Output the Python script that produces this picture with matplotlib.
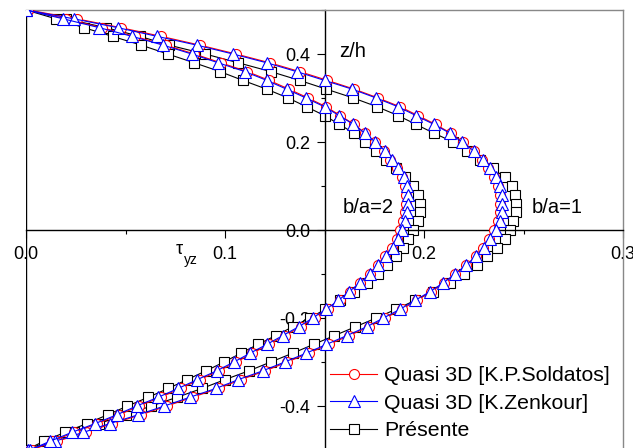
import numpy as np
import matplotlib
matplotlib.use("Agg")
from matplotlib import pyplot as plt
from matplotlib.ticker import MultipleLocator

plt.rcParams['font.family'] = ['Liberation Sans', 'DejaVu Sans']
plt.rcParams['axes.unicode_minus'] = False

# z/h sampling of the curves (top to bottom)
z_h = [0.50, 0.48, 0.46, 0.44, 0.42, 0.40, 0.38, 0.36, 0.34, 0.32, 0.30,
       0.28, 0.26, 0.24, 0.22, 0.20, 0.18, 0.16, 0.14, 0.12, 0.10,
       0.08, 0.06, 0.04, 0.02, 0.00, -0.02, -0.04, -0.06, -0.08, -0.10,
       -0.12, -0.14, -0.16, -0.18, -0.20, -0.22, -0.24, -0.26, -0.28, -0.30,
       -0.32, -0.34, -0.36, -0.38, -0.40, -0.42, -0.44, -0.46, -0.48, -0.50]

# b/a = 1
soldatos_1 = [0.001, 0.0255, 0.0475, 0.068, 0.0875, 0.1055, 0.1225, 0.1375, 0.1515, 0.165, 0.177,
              0.188, 0.197, 0.2058, 0.2135, 0.2195, 0.225, 0.229, 0.2322, 0.235, 0.237,
              0.238, 0.2384, 0.238, 0.237, 0.2352, 0.2325, 0.2295, 0.226, 0.2212, 0.2158,
              0.2102, 0.2037, 0.1963, 0.189, 0.1806, 0.1722, 0.1624, 0.1522, 0.142, 0.1313,
              0.1203, 0.108, 0.0968, 0.0837, 0.0708, 0.0577, 0.0433, 0.030, 0.0158, 0.002]
zenkour_1 = [0.000, 0.024, 0.046, 0.066, 0.086, 0.104, 0.121, 0.136, 0.150, 0.164, 0.176,
             0.187, 0.196, 0.205, 0.213, 0.219, 0.225, 0.2295, 0.233, 0.236, 0.238,
             0.239, 0.2394, 0.239, 0.238, 0.2362, 0.2332, 0.230, 0.2262, 0.2212, 0.2156,
             0.2097, 0.203, 0.1955, 0.188, 0.1796, 0.1712, 0.1612, 0.151, 0.1408, 0.130,
             0.119, 0.1067, 0.0955, 0.0824, 0.0695, 0.0564, 0.042, 0.0288, 0.0146, 0.001]
presente_1 = [0.000, 0.020, 0.040, 0.0573, 0.072, 0.090, 0.1067, 0.123, 0.1375, 0.151, 0.1645,
              0.1765, 0.187, 0.196, 0.205, 0.2147, 0.2218, 0.228, 0.2345, 0.2405, 0.244,
              0.2457, 0.2462, 0.246, 0.2449, 0.2432, 0.2405, 0.2365, 0.2318, 0.2265, 0.220,
              0.213, 0.2045, 0.1955, 0.186, 0.176, 0.1655, 0.155, 0.1445, 0.134, 0.123,
              0.112, 0.100, 0.0885, 0.076, 0.063, 0.050, 0.0365, 0.024, 0.0115, 0.000]

# b/a = 2
soldatos_2 = [0.001, 0.020, 0.038, 0.0547, 0.0703, 0.0846, 0.0979, 0.1112, 0.1222, 0.1322, 0.1418,
              0.1508, 0.158, 0.1648, 0.1704, 0.1752, 0.1798, 0.183, 0.1862, 0.1888, 0.1906,
              0.1911, 0.1911, 0.1906, 0.1895, 0.1878, 0.1862, 0.184, 0.1805, 0.1768, 0.1729,
              0.168, 0.1628, 0.1576, 0.1516, 0.145, 0.138, 0.1301, 0.1222, 0.1138, 0.1057,
              0.097, 0.0873, 0.0777, 0.0677, 0.0568, 0.0468, 0.0359, 0.0242, 0.0133, 0.003]
zenkour_2 = [0.000, 0.0187, 0.0367, 0.0534, 0.069, 0.0833, 0.0966, 0.110, 0.121, 0.131, 0.1407,
             0.150, 0.1574, 0.1645, 0.1704, 0.1754, 0.1804, 0.1838, 0.1871, 0.1898, 0.1916,
             0.1921, 0.1921, 0.1916, 0.1905, 0.1888, 0.187, 0.1846, 0.1809, 0.177, 0.1729,
             0.1678, 0.1624, 0.157, 0.1508, 0.1441, 0.137, 0.129, 0.121, 0.1126, 0.1045,
             0.0958, 0.0861, 0.0765, 0.0665, 0.0556, 0.0456, 0.0347, 0.023, 0.0121, 0.002]
presente_2 = [0.000, 0.015, 0.029, 0.0435, 0.058, 0.0712, 0.0846, 0.0975, 0.109, 0.121, 0.1317,
              0.141, 0.150, 0.1575, 0.1648, 0.1706, 0.176, 0.1808, 0.1858, 0.1905, 0.1945,
              0.1968, 0.1978, 0.1978, 0.1968, 0.1946, 0.1921, 0.1893, 0.1858, 0.1815, 0.177,
              0.1715, 0.165, 0.158, 0.1505, 0.1425, 0.134, 0.1255, 0.1165, 0.108, 0.0995,
              0.0905, 0.081, 0.0715, 0.0615, 0.051, 0.041, 0.0305, 0.0195, 0.009, 0.000]

labels = ["Quasi 3D [K.P.Soldatos]", "Quasi 3D [K.Zenkour]", "Présente"]

W, H = 633, 448
fig = plt.figure(figsize=(W / 100, H / 100), dpi=100)
ax = fig.add_axes([26 / W, (H - 450) / H, 597 / W, 440 / H])

lw = 0.8
mew = 0.8
for tau_s, tau_k, tau_p in [(soldatos_1, zenkour_1, presente_1),
                            (soldatos_2, zenkour_2, presente_2)]:
    hp, = ax.plot(tau_p, z_h, color='black', lw=lw, marker='s', ms=6.8,
                  mfc='white', mec='black', mew=mew, zorder=2)
    hs, = ax.plot(tau_s, z_h, color='red', lw=lw, marker='o', ms=7.2,
                  mfc='white', mec='red', mew=mew, zorder=3)
    hk, = ax.plot(tau_k, z_h, color='blue', lw=lw, marker='^', ms=8,
                  mfc='white', mec='blue', mew=mew, zorder=4)

ax.set_xlim(0, 0.3)
ax.set_ylim(-0.5, 0.5)

# axes crossing in the middle
ax.spines['left'].set_position(('data', 0.15))
ax.spines['bottom'].set_position(('data', 0))
for s in ['left', 'bottom']:
    ax.spines[s].set_linewidth(1.0)
for s in ['top', 'right']:
    ax.spines[s].set_color('#888888')
    ax.spines[s].set_linewidth(1.0)
ax.axvline(0, color='black', lw=1.0, zorder=1)

ax.xaxis.set_major_locator(MultipleLocator(0.1))
ax.xaxis.set_minor_locator(MultipleLocator(0.05))
ax.yaxis.set_major_locator(MultipleLocator(0.2))
ax.yaxis.set_minor_locator(MultipleLocator(0.1))
ax.xaxis.set_major_formatter(plt.FormatStrFormatter('%.1f'))
ax.yaxis.set_major_formatter(plt.FormatStrFormatter('%.1f'))
ax.tick_params(which='major', direction='out', length=5.5, width=0.8, labelsize=13, pad=5)
ax.tick_params(which='minor', direction='out', length=3, width=0.8)
ax.tick_params(axis='x', which='major', pad=6)
for lab in ax.get_xticklabels() + ax.get_yticklabels():
    lab.set_clip_on(False)

ax.text(0.1573, 0.405, "z/h", fontsize=14.5, ha='left', va='center')
ax.text(0.1591, 0.052, "b/a=2", fontsize=14.5, ha='left', va='center')
ax.text(0.2541, 0.052, "b/a=1", fontsize=14.5, ha='left', va='center')
ax.text(0.0754, -0.045, "τ", fontsize=13, ha='left', va='center')
ax.text(0.0795, -0.068, "yz", fontsize=10, ha='left', va='center')

fig.legend([hs, hk, hp], labels, loc='upper left',
           bbox_to_anchor=(330 / W, 1 - 366 / H), frameon=False,
           fontsize=15.3, borderpad=0, borderaxespad=0, numpoints=1,
           handlelength=2.23, handletextpad=0.3, labelspacing=0.4)

fig.savefig("out.png", dpi=100)
